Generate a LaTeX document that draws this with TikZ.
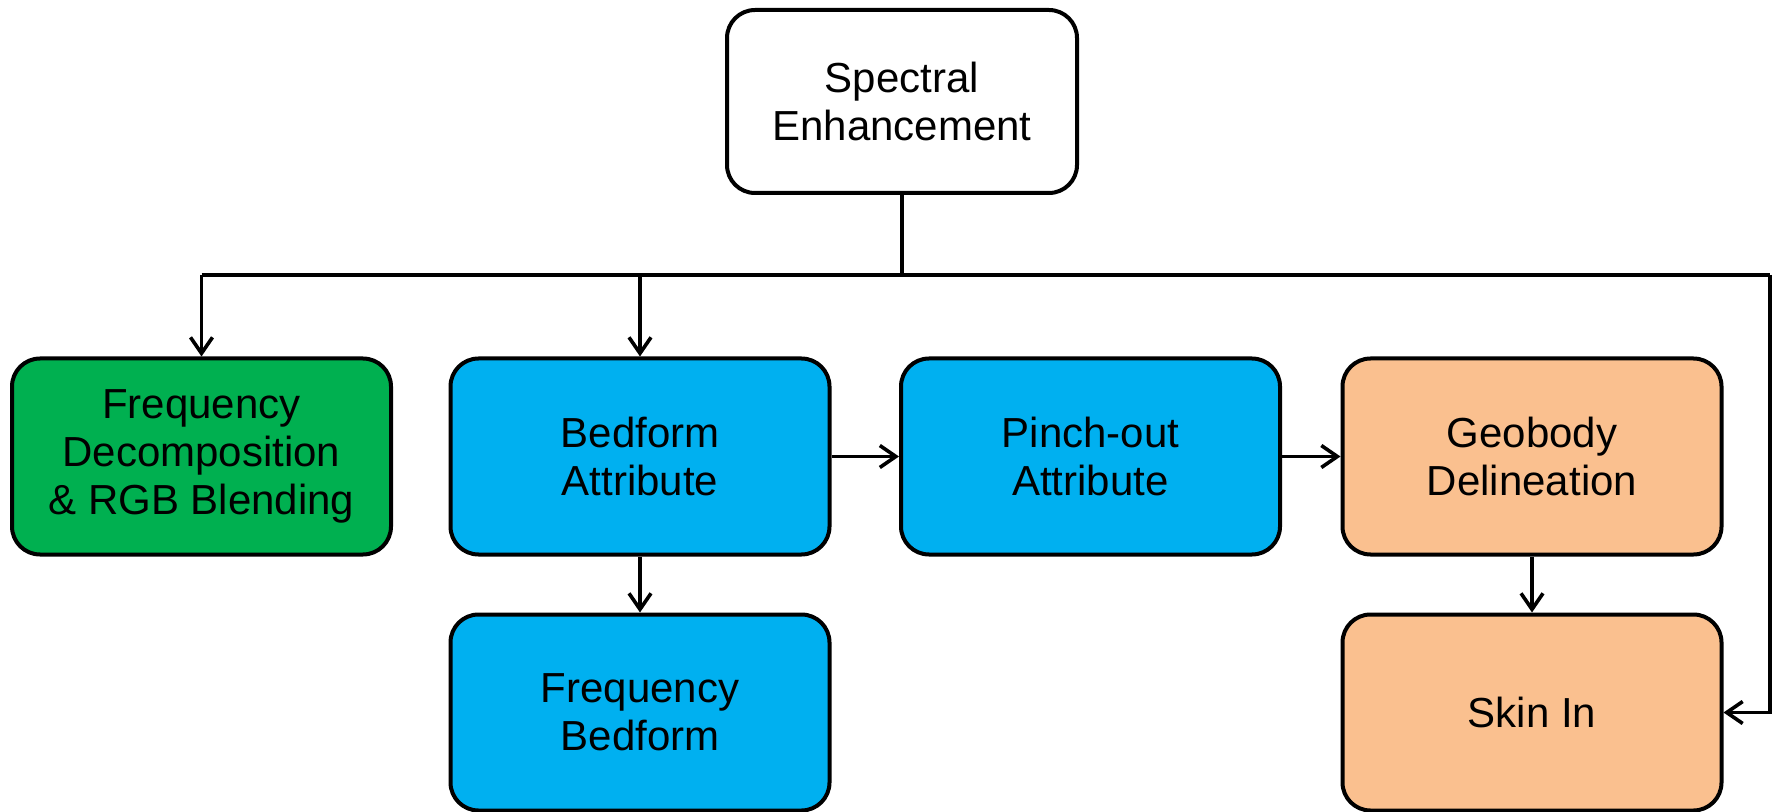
\documentclass[tikz,border=0pt]{standalone}
\usepackage{fontspec}
\setmainfont{Liberation Sans}
\usetikzlibrary{arrows.meta}
\definecolor{boxgreen}{HTML}{00B050}
\definecolor{boxblue}{HTML}{00B0F0}
\definecolor{boxtan}{HTML}{FAC08F}
\begin{document}
\begin{tikzpicture}[x=0.5pt,y=-0.5pt,
  stepbox/.style={draw=black, line width=2pt, rounded corners=14pt,
    minimum width=189.5pt, minimum height=98pt, inner sep=0pt, align=center,
    font=\fontsize{21}{24}\selectfont},
  link/.style={draw=black, line width=1.8pt},
  arr/.style={link, -{Straight Barb[length=8pt,width=11pt,line width=1.8pt]}}]
\useasboundingbox (0,0) rectangle (1777,812);

% nodes
\node[stepbox, fill=white, minimum width=175pt, minimum height=91.5pt] (spec) at (902,101.5) {Spectral\\Enhancement};
\node[stepbox, fill=boxgreen] (freq) at (201.5,456.5) {Frequency\\Decomposition\\\& RGB Blending};
\node[stepbox, fill=boxblue] (bed) at (640,456.5) {Bedform\\Attribute};
\node[stepbox, fill=boxblue] (pinch) at (1090.5,456.5) {Pinch-out\\Attribute};
\node[stepbox, fill=boxtan] (geo) at (1532,456.5) {Geobody\\Delineation};
\node[stepbox, fill=boxblue] (fbed) at (640,712.5) {Frequency\\Bedform};
\node[stepbox, fill=boxtan] (skin) at (1532,712.5) {Skin In};

% distribution bus below the top box
\coordinate (busL) at (201.5,275);
\coordinate (busR) at (1770,275);
\draw[link, line width=2.2pt] (spec.south) -- (spec.south |- busL);
\draw[link] (busL) -- (busR);
\draw[arr] (busL) -- (freq.north);
\draw[arr] (bed.north |- busL) -- (bed.north);
\draw[arr] (busR) |- (skin.east);

% chain connectors
\draw[arr] (bed.east) -- (pinch.west);
\draw[arr] (pinch.east) -- (geo.west);
\draw[arr] (bed.south) -- (fbed.north);
\draw[arr] (geo.south) -- (skin.north);
\end{tikzpicture}
\end{document}
